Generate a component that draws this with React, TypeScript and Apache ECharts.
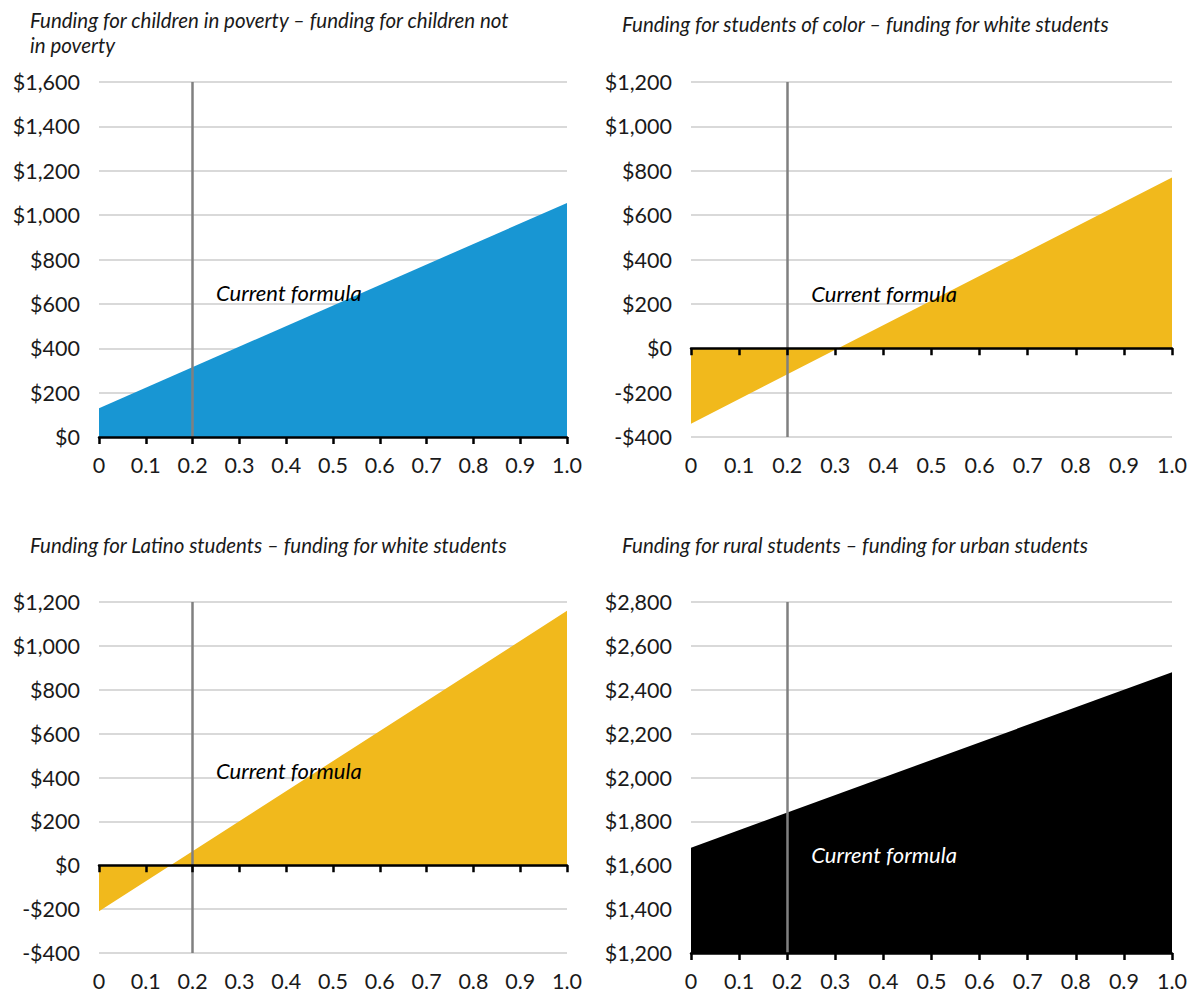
import React, { useEffect, useRef } from "react";
import * as echarts from "echarts";

// ---- data ----
const shareX = [0, 1.0];
const povertyGap = [130, 1055];
const colorGap = [-340, 770];
const latinoGap = [-210, 1160];
const ruralGap = [1680, 2480];
const currentFormulaX = 0.2;
const titles = [
  "Funding for children in poverty \u2013 funding for children not\nin poverty",
  "Funding for students of color \u2013 funding for white students",
  "Funding for Latino students \u2013 funding for white students",
  "Funding for rural students \u2013 funding for urban students",
];
const yRanges = [
  [0, 1600],
  [-400, 1200],
  [-400, 1200],
  [1200, 2800],
];
const labelY = [650, 245, 433, 1650];

const FONT = "Lato, 'Noto Sans', sans-serif";

function fmtMoney(v: number): string {
  const a = Math.abs(Math.round(v));
  const s = a.toString().replace(/\B(?=(\d{3})+(?!\d))/g, ",");
  return (v < 0 ? "-$" : "$") + s;
}

export default function App() {
  const ref = useRef<HTMLDivElement>(null);
  useEffect(() => {
    if (!ref.current) return;
    const chart = echarts.init(ref.current, undefined, { renderer: "svg" });
    const panels = [
      { vals: povertyGap, color: "#1896D3", text: "#000" },
      { vals: colorGap, color: "#F1B91C", text: "#000" },
      { vals: latinoGap, color: "#F1B91C", text: "#000" },
      { vals: ruralGap, color: "#000000", text: "#fff" },
    ];
    const gridPos = [
      { left: 99, width: 468, top: 82, height: 355 },
      { left: 691, width: 481, top: 82, height: 355 },
      { left: 99, width: 468, top: 602, height: 351 },
      { left: 691, width: 481, top: 602, height: 351 },
    ];
    const titlePos = [
      { left: 30, top: 7 },
      { left: 622, top: 11 },
      { left: 30, top: 532 },
      { left: 622, top: 532 },
    ];
    const grids: any[] = [];
    const xAxes: any[] = [];
    const yAxes: any[] = [];
    const series: any[] = [];
    const titleArr: any[] = [];
    panels.forEach((p, i) => {
      grids.push({ ...gridPos[i], containLabel: false });
      titleArr.push({
        text: titles[i],
        ...titlePos[i],
        padding: 0,
        textStyle: {
          fontFamily: FONT,
          fontStyle: "italic",
          fontWeight: "normal",
          fontSize: 20.5,
          color: "#1a1a1a",
          lineHeight: 25,
        },
      });
      const baseX = {
        type: "value",
        gridIndex: i,
        min: 0,
        max: 1,
        interval: 0.1,
        splitLine: { show: false },
      };
      xAxes.push({
        ...baseX,
        position: "bottom",
        axisLine: { show: false, onZero: false },
        axisTick: { show: false },
        axisLabel: {
          show: true,
          margin: 17,
          fontFamily: FONT,
          fontSize: 21.5,
          color: "#1a1a1a",
          formatter: (v: number) => (v === 0 ? "0" : v.toFixed(1)),
        },
      });
      xAxes.push({
        ...baseX,
        position: "bottom",
        z: 10,
        axisLine: { show: true, onZero: true, lineStyle: { color: "#000", width: 2.5 } },
        axisTick: { show: true, length: 7, lineStyle: { color: "#000", width: 2.5 } },
        axisLabel: { show: false },
      });
      yAxes.push({
        type: "value",
        gridIndex: i,
        min: yRanges[i][0],
        max: yRanges[i][1],
        interval: 200,
        axisLine: { show: false },
        axisTick: { show: false },
        splitLine: { show: true, lineStyle: { color: "#d9d9d9", width: 2 } },
        axisLabel: {
          margin: 19,
          fontFamily: FONT,
          fontSize: 21.5,
          color: "#1a1a1a",
          formatter: (v: number) => fmtMoney(v),
        },
      });
      series.push({
        type: "line",
        xAxisIndex: i * 2,
        yAxisIndex: i,
        data: shareX.map((x, k) => [x, p.vals[k]]),
        showSymbol: false,
        symbol: "none",
        lineStyle: { width: 0, color: p.color },
        itemStyle: { color: p.color },
        areaStyle: { color: p.color, opacity: 1 },
        silent: true,
        z: 2,
        markLine: {
          silent: true,
          symbol: ["none", "none"],
          label: { show: false },
          lineStyle: { color: "#808080", width: 2.5, type: "solid" },
          data: [{ xAxis: currentFormulaX }],
          z: 5,
        },
        markPoint: {
          silent: true,
          symbol: "circle",
          symbolSize: 0,
          itemStyle: { color: "rgba(0,0,0,0)" },
          label: {
            show: true,
            position: "right",
            distance: 0,
            formatter: "Current formula",
            fontFamily: FONT,
            fontStyle: "italic",
            fontSize: 22,
            color: p.text,
          },
          data: [{ coord: [0.25, labelY[i]] }],
          z: 6,
        },
      });
    });
    chart.setOption({
      animation: false,
      backgroundColor: "#fff",
      title: titleArr,
      grid: grids,
      xAxis: xAxes,
      yAxis: yAxes,
      series,
    });
    return () => chart.dispose();
  }, []);
  return (
    <div
      ref={ref}
      style={{ position: "absolute", left: 0, top: 0, width: 1195, height: 994 }}
    />
  );
}
